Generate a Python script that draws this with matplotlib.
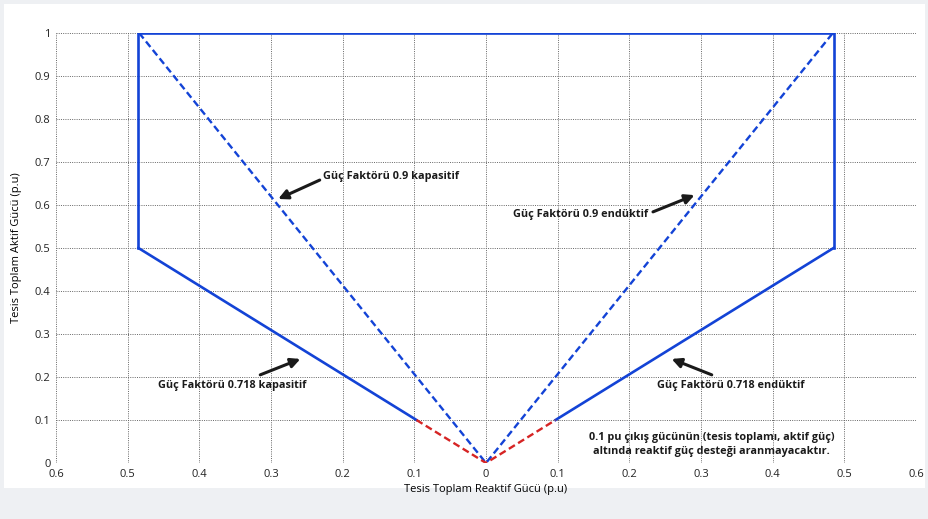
import matplotlib.pyplot as plt
from matplotlib.patches import Rectangle

plt.rcParams['font.family'] = ['Open Sans', 'DejaVu Sans']

# reaktif guc (Q) ve aktif guc (P) degerleri, p.u
sinir_q = [-0.485, -0.485, 0.485, 0.485]
sinir_p = [0.5, 1.0, 1.0, 0.5]
kap718_q = [-0.485, -0.097]
kap718_p = [0.5, 0.1]
end718_q = [0.485, 0.097]
end718_p = [0.5, 0.1]
alt_q = [-0.097, 0.0, 0.097]
alt_p = [0.1, 0.0, 0.1]
pf09_q = [-0.484, 0.0, 0.484]
pf09_p = [1.0, 0.0, 1.0]

x_ticks = [-0.6, -0.5, -0.4, -0.3, -0.2, -0.1, 0, 0.1, 0.2, 0.3, 0.4, 0.5, 0.6]
x_labels = ['0.6', '0.5', '0.4', '0.3', '0.2', '0.1', '0', '0.1', '0.2', '0.3', '0.4', '0.5', '0.6']
y_ticks = [0, 0.1, 0.2, 0.3, 0.4, 0.5, 0.6, 0.7, 0.8, 0.9, 1]
y_labels = ['0', '0.1', '0.2', '0.3', '0.4', '0.5', '0.6', '0.7', '0.8', '0.9', '1']

mavi = '#1343d6'
kirmizi = '#d62424'

fig = plt.figure(figsize=(9.29, 5.19), dpi=100)
fig.patch.set_facecolor('#eef0f3')
fig.add_artist(Rectangle((4 / 929, 31 / 519), 921 / 929, 484 / 519,
                         transform=fig.transFigure, facecolor='white',
                         edgecolor='none', zorder=0))
ax = fig.add_axes([56 / 929, 56 / 519, 860 / 929, 430 / 519])
ax.set_facecolor('white')

ax.plot(sinir_q, sinir_p, color=mavi, lw=1.9, solid_joinstyle='miter')
ax.plot(kap718_q, kap718_p, color=mavi, lw=1.9)
ax.plot(end718_q, end718_p, color=mavi, lw=1.9)
ax.plot(pf09_q, pf09_p, color=mavi, lw=1.7, linestyle=(0, (3, 1.6)))
ax.plot(alt_q, alt_p, color=kirmizi, lw=1.7, linestyle=(0, (3, 1.6)))

ax.set_xlim(-0.6, 0.6)
ax.set_ylim(0, 1)
ax.set_xticks(x_ticks)
ax.set_xticklabels(x_labels)
ax.set_yticks(y_ticks)
ax.set_yticklabels(y_labels)
ax.tick_params(length=0, labelsize=8, colors='#222222', pad=4)
ax.grid(True, linestyle=(0, (1, 1.3)), color='#666666', lw=0.7)
for s in ax.spines.values():
    s.set_visible(False)
ax.set_xlabel('Tesis Toplam Reaktif Gücü (p.u)', fontsize=8, labelpad=3)
ax.set_ylabel('Tesis Toplam Aktif Gücü (p.u)', fontsize=8, labelpad=9)

ok = dict(arrowstyle='-|>', lw=2.2, color='#1a1a1a', mutation_scale=14,
          shrinkA=0, shrinkB=0)
yazi = dict(fontsize=7.8, fontweight='bold', color='#1a1a1a')

ax.annotate('', xy=(-0.29, 0.614), xytext=(-0.232, 0.658), arrowprops=ok)
ax.text(-0.227, 0.667, 'Güç Faktörü 0.9 kapasitif', ha='left', va='center', **yazi)

ax.annotate('', xy=(0.291, 0.623), xytext=(0.233, 0.584), arrowprops=ok)
ax.text(0.226, 0.577, 'Güç Faktörü 0.9 endüktif', ha='right', va='center', **yazi)

ax.annotate('', xy=(-0.259, 0.242), xytext=(-0.315, 0.205), arrowprops=ok)
ax.text(-0.354, 0.181, 'Güç Faktörü 0.718 kapasitif', ha='center', va='center', **yazi)

ax.annotate('', xy=(0.259, 0.242), xytext=(0.315, 0.205), arrowprops=ok)
ax.text(0.341, 0.181, 'Güç Faktörü 0.718 endüktif', ha='center', va='center', **yazi)

ax.text(0.315, 0.06, '0.1 pu çıkış gücünün (tesis toplamı, aktif güç)',
        ha='center', va='center', **yazi)
ax.text(0.315, 0.026, 'altında reaktif güç desteği aranmayacaktır.',
        ha='center', va='center', **yazi)

fig.savefig('out.png', dpi=100, facecolor=fig.get_facecolor())
